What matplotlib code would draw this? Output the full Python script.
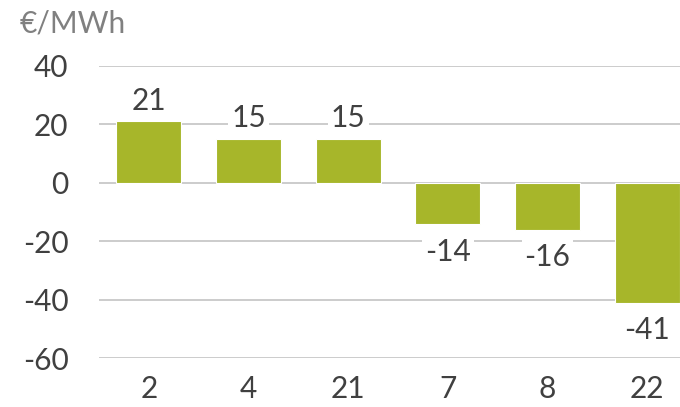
import matplotlib
matplotlib.use("Agg")
import matplotlib.pyplot as plt

categories = ["2", "4", "21", "7", "8", "22"]
values = [21, 15, 15, -14, -16, -41]
y_ticks = [-60, -40, -20, 0, 20, 40]

plt.rcParams["font.family"] = ["Lato", "DejaVu Sans"]

W, H = 680, 407
fig = plt.figure(figsize=(W / 100, H / 100), dpi=100)
ax = fig.add_axes([99 / W, (H - 358) / H, (697 - 99) / W, (358 - 66) / H])

x = range(len(categories))
ax.bar(x, values, width=0.65, color="#a7b62a", edgecolor="white", linewidth=0.8, zorder=2)

ax.set_ylim(-60, 40)
ax.set_xlim(-0.5, len(categories) - 0.5)
ax.set_yticks(y_ticks)
ax.set_yticklabels([str(t) for t in y_ticks])
ax.set_xticks(list(x))
ax.set_xticklabels(categories)
ax.yaxis.grid(True, color="#c4c4c4", linewidth=1.2, zorder=0)
ax.set_axisbelow(True)
for s in ax.spines.values():
    s.set_visible(False)
ax.tick_params(axis="both", length=0, labelsize=21.5, colors="#404040")
ax.tick_params(axis="y", pad=22)
ax.tick_params(axis="x", pad=12)

for xi, v in zip(x, values):
    off = 5 if v >= 0 else -10
    ax.annotate(str(v), (xi, v), xytext=(0, off), textcoords="offset points",
                ha="center", va="bottom" if v >= 0 else "top",
                fontsize=21.5, color="#404040", zorder=3,
                bbox=dict(boxstyle="square,pad=0.1", fc="white", ec="none"))

fig.text(20 / W, 1 - 32 / H, "€/MWh", fontsize=21.5, color="#808080", ha="left", va="baseline")

fig.savefig("out.png", dpi=100)
